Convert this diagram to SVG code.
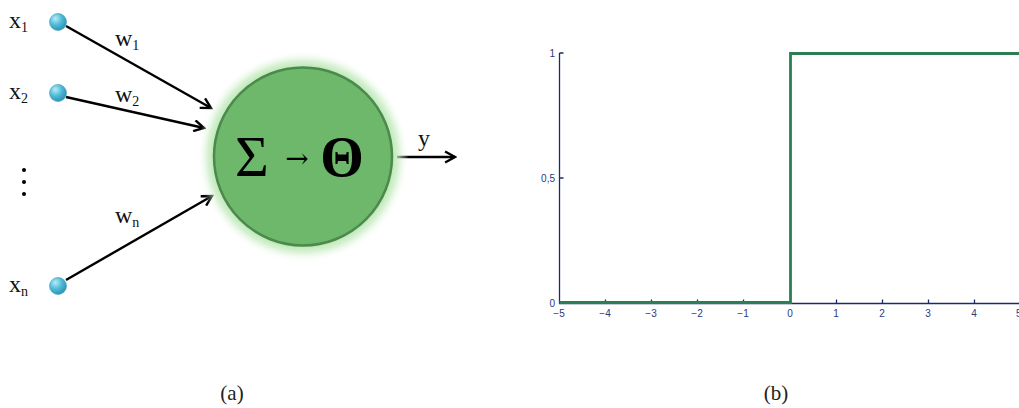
<svg xmlns="http://www.w3.org/2000/svg" width="1019" height="408" viewBox="0 0 1019 408">
<defs>
<style>
.lbl{font-family:"Liberation Serif","DejaVu Serif",serif;font-size:24px;fill:#111}
.sub{font-size:14px}
.cap{font-family:"Liberation Serif","DejaVu Serif",serif;font-size:21px;fill:#222}
.tick{font-family:"Liberation Sans",Arial,sans-serif;font-size:10px;fill:#2b3a7a}
.edge{stroke:#000;stroke-width:2.4;fill:none;marker-end:url(#arr)}
.ax{stroke:#1b2a6b;stroke-width:1.3;fill:none}
</style>
<marker id="arr" viewBox="0 0 12 12" refX="10" refY="6" markerWidth="5.5" markerHeight="5.5" orient="auto" markerUnits="strokeWidth">
<path d="M1,1 L10,6 L1,11" fill="none" stroke="#000" stroke-width="2.2"/>
</marker>
<radialGradient id="ball" cx="0.35" cy="0.3" r="0.75">
<stop offset="0" stop-color="#b8ecf7"/>
<stop offset="0.5" stop-color="#4fbbd9"/>
<stop offset="1" stop-color="#2a8fb0"/>
</radialGradient>
<radialGradient id="glow" cx="0.5" cy="0.5" r="0.5">
<stop offset="0.78" stop-color="#98d98e" stop-opacity="1"/>
<stop offset="0.9" stop-color="#c6ecc0" stop-opacity="0.7"/>
<stop offset="1" stop-color="#ffffff" stop-opacity="0"/>
</radialGradient>
</defs>

<g id="connectors">
<line class="edge" x1="66" y1="26" x2="211" y2="108"/>
<line class="edge" x1="66" y1="97" x2="204" y2="128"/>
<line class="edge" x1="66" y1="280" x2="212" y2="196"/>
<line class="edge" x1="397" y1="157" x2="455" y2="157"/>
<text class="lbl" x="115" y="46">w<tspan class="sub" dy="4">1</tspan></text>
<text class="lbl" x="115" y="102">w<tspan class="sub" dy="4">2</tspan></text>
<text class="lbl" x="115" y="223">w<tspan class="sub" dy="4">n</tspan></text>
<text class="lbl" x="418" y="146">y</text>
</g>

<g id="x1">
<circle cx="58" cy="22" r="8.5" fill="url(#ball)" stroke="#3a9cbc" stroke-width="0.6"/>
<text class="lbl" x="9" y="28">x<tspan class="sub" dy="4">1</tspan></text>
</g>
<g id="x2">
<circle cx="58" cy="93" r="8.5" fill="url(#ball)" stroke="#3a9cbc" stroke-width="0.6"/>
<text class="lbl" x="9" y="99">x<tspan class="sub" dy="4">2</tspan></text>
</g>
<g id="dots">
<circle cx="24" cy="170" r="2" fill="#000"/>
<circle cx="24" cy="182" r="2" fill="#000"/>
<circle cx="24" cy="194" r="2" fill="#000"/>
</g>
<g id="xn">
<circle cx="58" cy="286" r="8.5" fill="url(#ball)" stroke="#3a9cbc" stroke-width="0.6"/>
<text class="lbl" x="9" y="292">x<tspan class="sub" dy="4">n</tspan></text>
</g>

<g id="neuron">
<circle cx="303" cy="156.5" r="106" fill="url(#glow)"/>
<circle cx="303" cy="156.5" r="89" fill="#6db86b" stroke="#4b8a4c" stroke-width="2.5"/>
<text x="252" y="176" font-family="Liberation Serif,DejaVu Serif,serif" font-size="58" text-anchor="middle" fill="#000">Σ</text>
<text x="297" y="168" font-family="DejaVu Serif,serif" font-size="28" text-anchor="middle" fill="#000">→</text>
<text x="342" y="176" font-family="Liberation Serif,DejaVu Serif,serif" font-size="56" font-weight="bold" text-anchor="middle" fill="#000">Θ</text>
</g>

<g id="plot">
<line class="ax" x1="559.5" y1="53" x2="559.5" y2="303.5"/>
<line class="ax" x1="559" y1="303.5" x2="1019" y2="303.5"/>
<path class="ax" d="M559.5,53 h4 M559.5,178 h4 M605.5,303.5 v-4 M651.5,303.5 v-4 M697.5,303.5 v-4 M743.5,303.5 v-4 M836.5,303.5 v-4 M882.5,303.5 v-4 M928.5,303.5 v-4 M974.5,303.5 v-4"/>
<path d="M559.5,302.5 H790.5 V53.5 H1019" fill="none" stroke="#2c7f55" stroke-width="2.8"/>
<text class="tick" x="555" y="57" text-anchor="end">1</text>
<text class="tick" x="555" y="182" text-anchor="end">0,5</text>
<text class="tick" x="555" y="307" text-anchor="end">0</text>
<text class="tick" x="559" y="317" text-anchor="middle">−5</text>
<text class="tick" x="605" y="317" text-anchor="middle">−4</text>
<text class="tick" x="651" y="317" text-anchor="middle">−3</text>
<text class="tick" x="697" y="317" text-anchor="middle">−2</text>
<text class="tick" x="743" y="317" text-anchor="middle">−1</text>
<text class="tick" x="790" y="317" text-anchor="middle">0</text>
<text class="tick" x="836" y="317" text-anchor="middle">1</text>
<text class="tick" x="882" y="317" text-anchor="middle">2</text>
<text class="tick" x="928" y="317" text-anchor="middle">3</text>
<text class="tick" x="974" y="317" text-anchor="middle">4</text>
<text class="tick" x="1016" y="317" text-anchor="start">5</text>
</g>

<text class="cap" x="232" y="400" text-anchor="middle">(a)</text>
<text class="cap" x="776" y="400" text-anchor="middle">(b)</text>
</svg>
